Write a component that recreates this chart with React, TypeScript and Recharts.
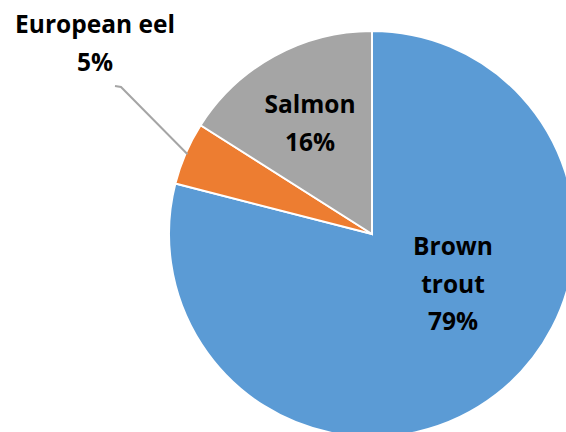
import { Cell, Pie, PieChart } from "recharts";

const categories = ["Brown trout", "European eel", "Salmon"];
const shares = [79, 5, 16];
const labelLines = [["Brown", "trout", "79%"], ["European eel", "5%"], ["Salmon", "16%"]];
const colors = ["#5B9BD5", "#ED7D31", "#A5A5A5"];

const data = categories.map((name, i) => ({ name, value: shares[i] }));

// text anchor offsets from the pie centre, plus line spacing
const labelSpots = [
  { dx: 81, dy: 21 },
  { dx: -277, dy: -201 },
  { dx: -62, dy: -121 }
];
const lineGap = 37.5;
const RAD = Math.PI / 180;

function SliceLabel(props: any) {
  const { cx, cy, midAngle, outerRadius, index } = props;
  const spot = labelSpots[index];
  const x = cx + spot.dx;
  const y = cy + spot.dy;
  const lines = labelLines[index];
  let leader = null;
  if (index === 1) {
    const sx = cx + (outerRadius - 2) * Math.cos(-midAngle * RAD);
    const sy = cy + (outerRadius - 2) * Math.sin(-midAngle * RAD);
    const ex = cx - 251;
    const ey = cy - 147;
    leader = (
      <polyline
        points={`${sx},${sy} ${ex},${ey} ${ex - 6},${ey - 1}`}
        fill="none"
        stroke="#A5A5A5"
        strokeWidth={2}
      />
    );
  }
  return (
    <g>
      {leader}
      {lines.map((t, i) => (
        <text
          key={i}
          x={x}
          y={y + i * lineGap}
          textAnchor="middle"
          fill="#000"
          fontFamily="'Open Sans', sans-serif"
          fontWeight="bold"
          fontSize={24.5}
        >
          {t}
        </text>
      ))}
    </g>
  );
}

export default function App() {
  return (
    <div style={{ position: "absolute", left: 0, top: 0, background: "#fff" }}>
      <PieChart width={566} height={432} margin={{ top: 0, right: 0, bottom: 0, left: 0 }}>
        <Pie
          data={data}
          dataKey="value"
          nameKey="name"
          cx={372}
          cy={234}
          outerRadius={203}
          startAngle={90}
          endAngle={-270}
          stroke="#fff"
          strokeWidth={2}
          labelLine={false}
          label={SliceLabel}
          isAnimationActive={false}
        >
          {data.map((d, i) => (
            <Cell key={d.name} fill={colors[i]} />
          ))}
        </Pie>
      </PieChart>
    </div>
  );
}
